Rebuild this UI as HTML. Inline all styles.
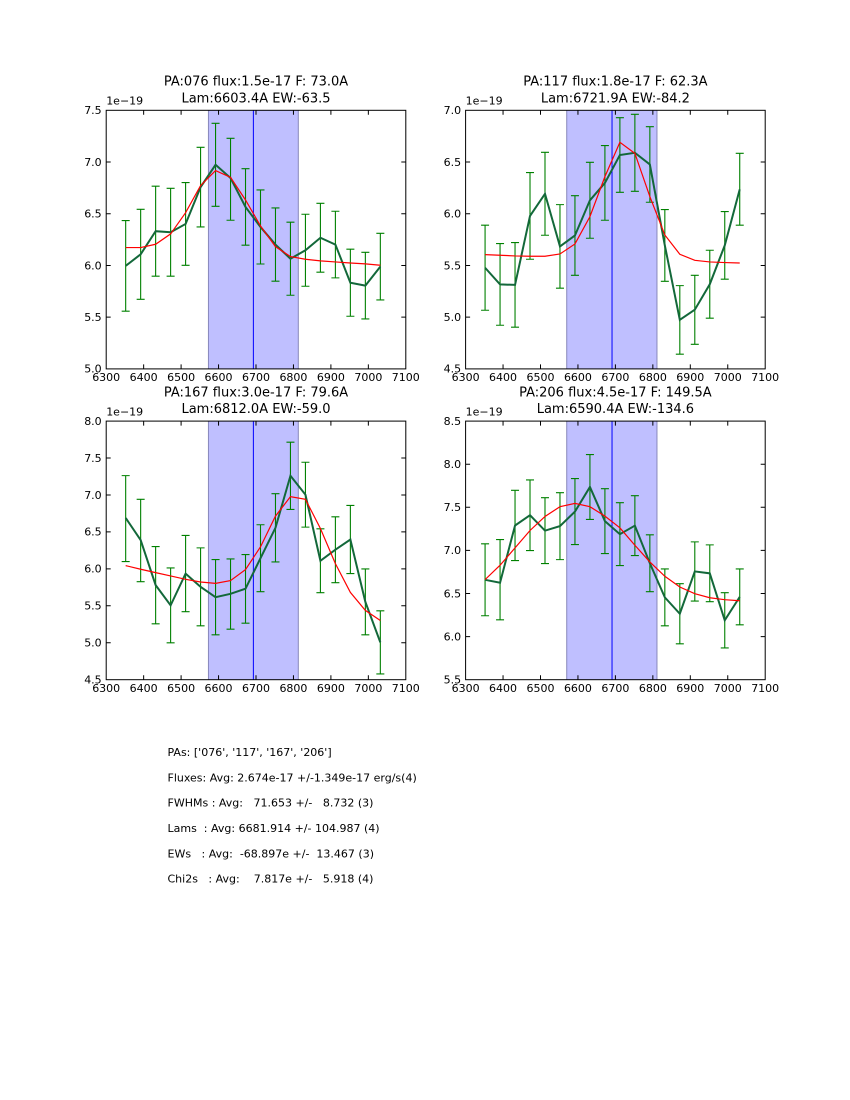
<!DOCTYPE html>
<html><head><meta charset="utf-8"><style>
html,body{margin:0;padding:0;background:#fff;}
svg{display:block;}
text{font-family:"DejaVu Sans","Liberation Sans",sans-serif;fill:#000;}
.tk{font-size:11px;}
.tt{font-size:13px;}
.tb{font-size:11px;}
.tb text{white-space:pre;}
.ns{vector-effect:non-scaling-stroke;fill:none;}
</style></head><body>
<svg width="850" height="1100" viewBox="0 0 850 1100" xmlns="http://www.w3.org/2000/svg">
<rect width="850" height="1100" fill="#fff"/>

<!-- ============ PANEL 1 ============ -->
<g transform="translate(106.2,368.9) scale(0.3745,-103.44) translate(-6300,-5.0)">
  <rect x="6573" y="5.0" width="240" height="2.5" fill="#bfbfff"/>
  <path class="ns" d="M6573 5V7.5M6813 5V7.5" stroke="#8888bb" stroke-width="1"/>
  <path class="ns" d="M6693 5V7.5" stroke="#0000ff" stroke-width="1"/>
  <path class="ns" stroke="#008000" stroke-width="1.1" d="M6352 5.558h-10.7h21.4m-10.7 0V6.434h-10.7h21.4M6392 5.673h-10.7h21.4m-10.7 0V6.543h-10.7h21.4M6432 5.896h-10.7h21.4m-10.7 0V6.766h-10.7h21.4M6472 5.896h-10.7h21.4m-10.7 0V6.746h-10.7h21.4M6512 6.001h-10.7h21.4m-10.7 0V6.801h-10.7h21.4M6552 6.372h-10.7h21.4m-10.7 0V7.142h-10.7h21.4M6592 6.572h-10.7h21.4m-10.7 0V7.374h-10.7h21.4M6632 6.437h-10.7h21.4m-10.7 0V7.229h-10.7h21.4M6672 6.196h-10.7h21.4m-10.7 0V6.936h-10.7h21.4M6712 6.014h-10.7h21.4m-10.7 0V6.730h-10.7h21.4M6752 5.848h-10.7h21.4m-10.7 0V6.556h-10.7h21.4M6792 5.712h-10.7h21.4m-10.7 0V6.418h-10.7h21.4M6832 5.799h-10.7h21.4m-10.7 0V6.495h-10.7h21.4M6872 5.935h-10.7h21.4m-10.7 0V6.601h-10.7h21.4M6912 5.880h-10.7h21.4m-10.7 0V6.524h-10.7h21.4M6952 5.509h-10.7h21.4m-10.7 0V6.157h-10.7h21.4M6992 5.483h-10.7h21.4m-10.7 0V6.127h-10.7h21.4M7032 5.667h-10.7h21.4m-10.7 0V6.311h-10.7h21.4"/>
  <polyline class="ns" stroke="#13683a" stroke-width="2" points="6352,5.996 6392,6.108 6432,6.331 6472,6.321 6512,6.401 6552,6.757 6592,6.973 6632,6.845 6672,6.566 6712,6.372 6752,6.202 6792,6.065 6832,6.147 6872,6.268 6912,6.202 6952,5.833 6992,5.805 7032,5.989"/>
  <polyline class="ns" stroke="#ff0000" stroke-width="1.2" points="6352,6.173 6392,6.173 6432,6.205 6472,6.305 6512,6.51 6552,6.772 6592,6.917 6632,6.852 6672,6.633 6712,6.382 6752,6.182 6792,6.086 6832,6.06 6872,6.044 6912,6.034 6952,6.024 6992,6.015 7032,6.002"/>
</g>
<rect x="106.2" y="110.3" width="299.6" height="258.6" fill="none" stroke="#000" stroke-width="1"/>
<g transform="translate(106.2,0)" stroke="#000" stroke-width="1">
  <path d="M37.45 368.9v-4.5M74.9 368.9v-4.5M112.35 368.9v-4.5M149.8 368.9v-4.5M187.25 368.9v-4.5M224.7 368.9v-4.5M262.15 368.9v-4.5M37.45 110.3v4.5M74.9 110.3v4.5M112.35 110.3v4.5M149.8 110.3v4.5M187.25 110.3v4.5M224.7 110.3v4.5M262.15 110.3v4.5"/>
  <path d="M0 317.18h4.5M0 265.46h4.5M0 213.74h4.5M0 162.02h4.5M299.6 317.18h-4.5M299.6 265.46h-4.5M299.6 213.74h-4.5M299.6 162.02h-4.5"/>
</g>
<g class="tk" text-anchor="middle">
  <text x="106.2" y="381">6300</text><text x="143.65" y="381">6400</text><text x="181.1" y="381">6500</text><text x="218.55" y="381">6600</text><text x="256" y="381">6700</text><text x="293.45" y="381">6800</text><text x="330.9" y="381">6900</text><text x="368.35" y="381">7000</text><text x="405.8" y="381">7100</text>
</g>
<g class="tk" text-anchor="end">
  <text x="101.7" y="372.7">5.0</text><text x="101.7" y="321">5.5</text><text x="101.7" y="269.3">6.0</text><text x="101.7" y="217.5">6.5</text><text x="101.7" y="165.8">7.0</text><text x="101.7" y="114.1">7.5</text>
</g>
<text class="tk" x="106.2" y="104.6">1e−19</text>
<text class="tt" x="256" y="85.7" text-anchor="middle">PA:076 flux:1.5e-17 F: 73.0A</text>
<text class="tt" x="256" y="102.3" text-anchor="middle">Lam:6603.4A EW:-63.5</text>

<!-- ============ PANEL 2 ============ -->
<g transform="translate(465.6,368.9) scale(0.3745,-103.44) translate(-6300,-4.5)">
  <rect x="6570" y="4.5" width="241" height="2.5" fill="#bfbfff"/>
  <path class="ns" d="M6570 4.5V7M6811 4.5V7" stroke="#8888bb" stroke-width="1"/>
  <path class="ns" d="M6691 4.5V7" stroke="#0000ff" stroke-width="1"/>
  <path class="ns" stroke="#008000" stroke-width="1.1" d="M6352 5.067h-10.7h21.4m-10.7 0V5.889h-10.7h21.4M6392 4.922h-10.7h21.4m-10.7 0V5.712h-10.7h21.4M6432 4.903h-10.7h21.4m-10.7 0V5.721h-10.7h21.4M6472 5.560h-10.7h21.4m-10.7 0V6.398h-10.7h21.4M6512 5.792h-10.7h21.4m-10.7 0V6.594h-10.7h21.4M6552 5.280h-10.7h21.4m-10.7 0V6.088h-10.7h21.4M6592 5.405h-10.7h21.4m-10.7 0V6.175h-10.7h21.4M6632 5.763h-10.7h21.4m-10.7 0V6.497h-10.7h21.4M6672 5.937h-10.7h21.4m-10.7 0V6.659h-10.7h21.4M6712 6.207h-10.7h21.4m-10.7 0V6.929h-10.7h21.4M6752 6.217h-10.7h21.4m-10.7 0V6.961h-10.7h21.4M6792 6.111h-10.7h21.4m-10.7 0V6.842h-10.7h21.4M6832 5.347h-10.7h21.4m-10.7 0V6.040h-10.7h21.4M6872 4.642h-10.7h21.4m-10.7 0V5.305h-10.7h21.4M6912 4.738h-10.7h21.4m-10.7 0V5.405h-10.7h21.4M6952 4.990h-10.7h21.4m-10.7 0V5.647h-10.7h21.4M6992 5.367h-10.7h21.4m-10.7 0V6.021h-10.7h21.4M7032 5.889h-10.7h21.4m-10.7 0V6.584h-10.7h21.4"/>
  <polyline class="ns" stroke="#13683a" stroke-width="2" points="6352,5.478 6392,5.317 6432,5.312 6472,5.979 6512,6.193 6552,5.684 6592,5.790 6632,6.130 6672,6.298 6712,6.568 6752,6.589 6792,6.477 6832,5.694 6872,4.974 6912,5.072 6952,5.318 6992,5.694 7032,6.236"/>
  <polyline class="ns" stroke="#ff0000" stroke-width="1.2" points="6352,5.605 6392,5.599 6432,5.592 6472,5.589 6512,5.589 6552,5.611 6592,5.708 6632,5.972 6672,6.359 6712,6.691 6752,6.584 6792,6.166 6832,5.795 6872,5.608 6912,5.55 6952,5.534 6992,5.528 7032,5.524"/>
</g>
<rect x="465.6" y="110.3" width="299.6" height="258.6" fill="none" stroke="#000" stroke-width="1"/>
<g transform="translate(465.6,0)" stroke="#000" stroke-width="1">
  <path d="M37.45 368.9v-4.5M74.9 368.9v-4.5M112.35 368.9v-4.5M149.8 368.9v-4.5M187.25 368.9v-4.5M224.7 368.9v-4.5M262.15 368.9v-4.5M37.45 110.3v4.5M74.9 110.3v4.5M112.35 110.3v4.5M149.8 110.3v4.5M187.25 110.3v4.5M224.7 110.3v4.5M262.15 110.3v4.5"/>
  <path d="M0 317.18h4.5M0 265.46h4.5M0 213.74h4.5M0 162.02h4.5M299.6 317.18h-4.5M299.6 265.46h-4.5M299.6 213.74h-4.5M299.6 162.02h-4.5"/>
</g>
<g class="tk" text-anchor="middle">
  <text x="465.6" y="381">6300</text><text x="503.05" y="381">6400</text><text x="540.5" y="381">6500</text><text x="577.95" y="381">6600</text><text x="615.4" y="381">6700</text><text x="652.85" y="381">6800</text><text x="690.3" y="381">6900</text><text x="727.75" y="381">7000</text><text x="765.2" y="381">7100</text>
</g>
<g class="tk" text-anchor="end">
  <text x="461.1" y="372.7">4.5</text><text x="461.1" y="321">5.0</text><text x="461.1" y="269.3">5.5</text><text x="461.1" y="217.5">6.0</text><text x="461.1" y="165.8">6.5</text><text x="461.1" y="114.1">7.0</text>
</g>
<text class="tk" x="465.6" y="104.6">1e−19</text>
<text class="tt" x="615.4" y="85.7" text-anchor="middle">PA:117 flux:1.8e-17 F: 62.3A</text>
<text class="tt" x="615.4" y="102.3" text-anchor="middle">Lam:6721.9A EW:-84.2</text>

<!-- ============ PANEL 3 ============ -->
<g transform="translate(106.2,679.7) scale(0.3745,-73.886) translate(-6300,-4.5)">
  <rect x="6573" y="4.5" width="240" height="3.5" fill="#bfbfff"/>
  <path class="ns" d="M6573 4.5V8M6813 4.5V8" stroke="#8888bb" stroke-width="1"/>
  <path class="ns" d="M6693 4.5V8" stroke="#0000ff" stroke-width="1"/>
  <path class="ns" stroke="#008000" stroke-width="1.1" d="M6352 6.099h-10.7h21.4m-10.7 0V7.262h-10.7h21.4M6392 5.827h-10.7h21.4m-10.7 0V6.941h-10.7h21.4M6432 5.257h-10.7h21.4m-10.7 0V6.302h-10.7h21.4M6472 4.999h-10.7h21.4m-10.7 0V6.013h-10.7h21.4M6512 5.420h-10.7h21.4m-10.7 0V6.452h-10.7h21.4M6552 5.230h-10.7h21.4m-10.7 0V6.284h-10.7h21.4M6592 5.107h-10.7h21.4m-10.7 0V6.126h-10.7h21.4M6632 5.184h-10.7h21.4m-10.7 0V6.135h-10.7h21.4M6672 5.265h-10.7h21.4m-10.7 0V6.194h-10.7h21.4M6712 5.691h-10.7h21.4m-10.7 0V6.597h-10.7h21.4M6752 6.094h-10.7h21.4m-10.7 0V7.018h-10.7h21.4M6792 6.805h-10.7h21.4m-10.7 0V7.715h-10.7h21.4M6832 6.565h-10.7h21.4m-10.7 0V7.443h-10.7h21.4M6872 5.678h-10.7h21.4m-10.7 0V6.542h-10.7h21.4M6912 5.813h-10.7h21.4m-10.7 0V6.705h-10.7h21.4M6952 5.936h-10.7h21.4m-10.7 0V6.859h-10.7h21.4M6992 5.107h-10.7h21.4m-10.7 0V5.999h-10.7h21.4M7032 4.578h-10.7h21.4m-10.7 0V5.433h-10.7h21.4"/>
  <polyline class="ns" stroke="#13683a" stroke-width="2" points="6352,6.69 6392,6.39 6432,5.780 6472,5.506 6512,5.936 6552,5.757 6592,5.617 6632,5.662 6672,5.732 6712,6.144 6752,6.556 6792,7.260 6832,7.004 6872,6.110 6912,6.259 6952,6.397 6992,5.553 7032,5.005"/>
  <polyline class="ns" stroke="#ff0000" stroke-width="1.2" points="6352,6.044 6392,5.995 6432,5.949 6472,5.904 6512,5.859 6552,5.822 6592,5.804 6632,5.841 6672,5.99 6712,6.298 6752,6.714 6792,6.977 6832,6.941 6872,6.547 6912,6.071 6952,5.682 6992,5.438 7032,5.302"/>
</g>
<rect x="106.2" y="421.1" width="299.6" height="258.6" fill="none" stroke="#000" stroke-width="1"/>
<g transform="translate(106.2,0)" stroke="#000" stroke-width="1">
  <path d="M37.45 679.7v-4.5M74.9 679.7v-4.5M112.35 679.7v-4.5M149.8 679.7v-4.5M187.25 679.7v-4.5M224.7 679.7v-4.5M262.15 679.7v-4.5M37.45 421.1v4.5M74.9 421.1v4.5M112.35 421.1v4.5M149.8 421.1v4.5M187.25 421.1v4.5M224.7 421.1v4.5M262.15 421.1v4.5"/>
  <path d="M0 642.76h4.5M0 605.81h4.5M0 568.87h4.5M0 531.93h4.5M0 494.99h4.5M0 458.04h4.5M299.6 642.76h-4.5M299.6 605.81h-4.5M299.6 568.87h-4.5M299.6 531.93h-4.5M299.6 494.99h-4.5M299.6 458.04h-4.5"/>
</g>
<g class="tk" text-anchor="middle">
  <text x="106.2" y="691.8">6300</text><text x="143.65" y="691.8">6400</text><text x="181.1" y="691.8">6500</text><text x="218.55" y="691.8">6600</text><text x="256" y="691.8">6700</text><text x="293.45" y="691.8">6800</text><text x="330.9" y="691.8">6900</text><text x="368.35" y="691.8">7000</text><text x="405.8" y="691.8">7100</text>
</g>
<g class="tk" text-anchor="end">
  <text x="101.7" y="683.5">4.5</text><text x="101.7" y="646.6">5.0</text><text x="101.7" y="609.6">5.5</text><text x="101.7" y="572.7">6.0</text><text x="101.7" y="535.7">6.5</text><text x="101.7" y="498.8">7.0</text><text x="101.7" y="461.8">7.5</text><text x="101.7" y="424.9">8.0</text>
</g>
<text class="tk" x="106.2" y="415.6">1e−19</text>
<text class="tt" x="256" y="396.6" text-anchor="middle">PA:167 flux:3.0e-17 F: 79.6A</text>
<text class="tt" x="256" y="413.1" text-anchor="middle">Lam:6812.0A EW:-59.0</text>

<!-- ============ PANEL 4 ============ -->
<g transform="translate(465.6,679.7) scale(0.3745,-86.2) translate(-6300,-5.5)">
  <rect x="6570" y="5.5" width="241" height="3" fill="#bfbfff"/>
  <path class="ns" d="M6570 5.5V8.5M6811 5.5V8.5" stroke="#8888bb" stroke-width="1"/>
  <path class="ns" d="M6691 5.5V8.5" stroke="#0000ff" stroke-width="1"/>
  <path class="ns" stroke="#008000" stroke-width="1.1" d="M6352 6.242h-10.7h21.4m-10.7 0V7.076h-10.7h21.4M6392 6.195h-10.7h21.4m-10.7 0V7.126h-10.7h21.4M6432 6.882h-10.7h21.4m-10.7 0V7.697h-10.7h21.4M6472 6.998h-10.7h21.4m-10.7 0V7.817h-10.7h21.4M6512 6.847h-10.7h21.4m-10.7 0V7.611h-10.7h21.4M6552 6.893h-10.7h21.4m-10.7 0V7.670h-10.7h21.4M6592 7.068h-10.7h21.4m-10.7 0V7.833h-10.7h21.4M6632 7.359h-10.7h21.4m-10.7 0V8.112h-10.7h21.4M6672 6.963h-10.7h21.4m-10.7 0V7.716h-10.7h21.4M6712 6.824h-10.7h21.4m-10.7 0V7.553h-10.7h21.4M6752 6.940h-10.7h21.4m-10.7 0V7.635h-10.7h21.4M6792 6.521h-10.7h21.4m-10.7 0V7.181h-10.7h21.4M6832 6.125h-10.7h21.4m-10.7 0V6.785h-10.7h21.4M6872 5.916h-10.7h21.4m-10.7 0V6.614h-10.7h21.4M6912 6.412h-10.7h21.4m-10.7 0V7.099h-10.7h21.4M6952 6.405h-10.7h21.4m-10.7 0V7.064h-10.7h21.4M6992 5.869h-10.7h21.4m-10.7 0V6.509h-10.7h21.4M7032 6.137h-10.7h21.4m-10.7 0V6.785h-10.7h21.4"/>
  <polyline class="ns" stroke="#13683a" stroke-width="2" points="6352,6.659 6392,6.625 6432,7.289 6472,7.408 6512,7.229 6552,7.282 6592,7.450 6632,7.736 6672,7.340 6712,7.188 6752,7.287 6792,6.851 6832,6.455 6872,6.265 6912,6.756 6952,6.734 6992,6.189 7032,6.461"/>
  <polyline class="ns" stroke="#ff0000" stroke-width="1.2" points="6352,6.661 6392,6.828 6432,7.029 6472,7.231 6512,7.394 6552,7.507 6592,7.545 6632,7.507 6672,7.398 6712,7.262 6752,7.06 6792,6.866 6832,6.70 6872,6.575 6912,6.498 6952,6.451 6992,6.428 7032,6.416"/>
</g>
<rect x="465.6" y="421.1" width="299.6" height="258.6" fill="none" stroke="#000" stroke-width="1"/>
<g transform="translate(465.6,0)" stroke="#000" stroke-width="1">
  <path d="M37.45 679.7v-4.5M74.9 679.7v-4.5M112.35 679.7v-4.5M149.8 679.7v-4.5M187.25 679.7v-4.5M224.7 679.7v-4.5M262.15 679.7v-4.5M37.45 421.1v4.5M74.9 421.1v4.5M112.35 421.1v4.5M149.8 421.1v4.5M187.25 421.1v4.5M224.7 421.1v4.5M262.15 421.1v4.5"/>
  <path d="M0 636.6h4.5M0 593.5h4.5M0 550.4h4.5M0 507.3h4.5M0 464.2h4.5M299.6 636.6h-4.5M299.6 593.5h-4.5M299.6 550.4h-4.5M299.6 507.3h-4.5M299.6 464.2h-4.5"/>
</g>
<g class="tk" text-anchor="middle">
  <text x="465.6" y="691.8">6300</text><text x="503.05" y="691.8">6400</text><text x="540.5" y="691.8">6500</text><text x="577.95" y="691.8">6600</text><text x="615.4" y="691.8">6700</text><text x="652.85" y="691.8">6800</text><text x="690.3" y="691.8">6900</text><text x="727.75" y="691.8">7000</text><text x="765.2" y="691.8">7100</text>
</g>
<g class="tk" text-anchor="end">
  <text x="461.1" y="683.5">5.5</text><text x="461.1" y="640.4">6.0</text><text x="461.1" y="597.3">6.5</text><text x="461.1" y="554.2">7.0</text><text x="461.1" y="511.1">7.5</text><text x="461.1" y="468">8.0</text><text x="461.1" y="424.9">8.5</text>
</g>
<text class="tk" x="465.6" y="415.6">1e−19</text>
<text class="tt" x="615.4" y="396.6" text-anchor="middle">PA:206 flux:4.5e-17 F: 149.5A</text>
<text class="tt" x="615.4" y="413.1" text-anchor="middle">Lam:6590.4A EW:-134.6</text>

<!-- ============ TEXT BLOCK ============ -->
<g class="tb">
<text x="167.5" y="756">PAs: ['076', '117', '167', '206']</text>
<text x="167.5" y="781.3">Fluxes: Avg: 2.674e-17 +/-1.349e-17 erg/s(4)</text>
<text x="167.5" y="806.6">FWHMs : Avg:&#160;&#160;&#160;71.653 +/-&#160;&#160;&#160;8.732 (3)</text>
<text x="167.5" y="832">Lams&#160;&#160;: Avg: 6681.914 +/- 104.987 (4)</text>
<text x="167.5" y="857.3">EWs&#160;&#160;&#160;: Avg:&#160;&#160;-68.897e +/-&#160;&#160;13.467 (3)</text>
<text x="167.5" y="882.6">Chi2s&#160;&#160;&#160;: Avg:&#160;&#160;&#160;&#160;7.817e +/-&#160;&#160;&#160;5.918 (4)</text>
</g>
</svg>
</body></html>
